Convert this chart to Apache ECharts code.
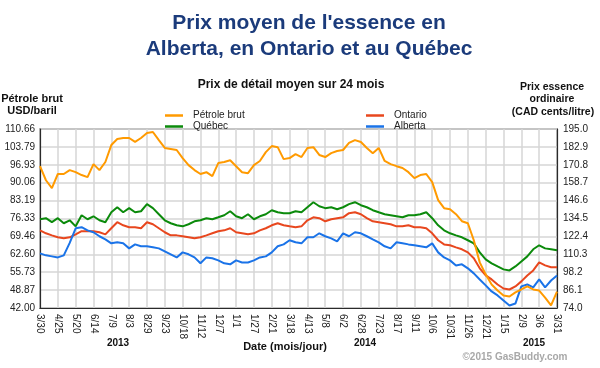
<!DOCTYPE html>
<html><head><meta charset="utf-8">
<script src="https://cdn.jsdelivr.net/npm/echarts@6/dist/echarts.min.js"></script>
<style>html,body{margin:0;padding:0;background:#fff}#c{width:600px;height:368px}</style>
</head><body><div id="c"></div>
<script>
// Tick labels along the date axis (every ~25 days)
const tickLabels = ['3/30','4/25','5/20','6/14','7/9','8/3','8/29','9/23','10/18','11/12','12/7','1/1','1/27','2/21','3/18','4/13','5/8','6/2','6/28','7/23','8/17','9/11','10/6','10/31','11/26','12/21','1/15','2/9','3/6','3/31'];
const leftTicks = [42.00, 48.87, 55.73, 62.60, 69.46, 76.33, 83.19, 90.06, 96.93, 103.79, 110.66];
const rightTicks = [74.0, 86.1, 98.2, 110.3, 122.4, 134.5, 146.6, 158.7, 170.8, 182.9, 195.0];
const yearLabels = ['2013', '2014', '2015'];

// Crude oil, USD/barrel (left axis)
const petrole = [96.4, 91.0, 88.0, 93.4, 93.4, 94.9, 94.1, 93.0, 92.2, 97.2,
  94.9, 98.0, 104.5, 106.8, 107.2, 107.2, 105.7, 107.2, 109.1, 109.5,
  106.4, 103.4, 103.0, 102.6, 99.5, 96.8, 94.9, 93.4, 94.1, 92.6,
  97.6, 98.0, 98.7, 96.4, 94.1, 93.7, 96.8, 98.4, 101.8, 104.1,
  103.7, 99.1, 99.5, 101.0, 99.9, 103.4, 103.7, 100.7, 99.9, 101.4,
  102.2, 102.6, 105.3, 106.4, 105.7, 103.4, 101.4, 103.4, 98.4, 97.2,
  96.4, 95.7, 94.1, 91.8, 93.0, 93.4, 90.3, 83.4, 80.3, 79.9,
  78.0, 75.3, 74.5, 68.0, 59.5, 54.9, 51.0, 48.7, 46.8, 46.4,
  48.0, 49.1, 50.3, 49.1, 48.7, 46.0, 43.0, 48.3];
// Regular gasoline, CAD cents/litre (right axis)
const quebec = [134.0, 134.7, 132.0, 134.7, 131.3, 133.3, 129.2, 136.7, 134.0, 136.0,
  133.3, 132.0, 138.7, 142.1, 138.7, 141.5, 138.7, 139.4, 144.2, 141.5,
  137.4, 133.3, 131.3, 129.9, 129.2, 130.6, 132.6, 133.3, 134.7, 134.0,
  135.3, 136.7, 139.4, 136.0, 134.7, 137.4, 134.0, 136.0, 137.4, 140.1,
  138.7, 138.1, 138.1, 139.4, 138.7, 142.1, 145.5, 142.8, 141.5, 142.1,
  140.8, 142.1, 144.2, 145.5, 143.5, 142.1, 140.1, 138.7, 137.4, 136.7,
  136.0, 135.3, 136.7, 136.7, 137.4, 138.7, 134.7, 129.9, 126.5, 124.5,
  123.1, 121.8, 119.8, 117.7, 111.6, 106.9, 104.2, 102.1, 100.1, 99.4,
  102.1, 105.5, 108.9, 113.7, 116.4, 114.3, 113.7, 113.0];
const ontario = [126.5, 124.5, 123.1, 121.8, 121.1, 121.8, 123.8, 125.9, 125.9, 125.9,
  125.2, 123.8, 127.9, 132.0, 129.9, 128.6, 128.6, 127.9, 132.0, 130.6,
  127.9, 125.2, 123.1, 123.1, 122.5, 121.8, 121.1, 121.8, 123.1, 124.5,
  125.9, 126.5, 127.9, 125.2, 124.5, 123.8, 124.5, 126.5, 127.9, 129.9,
  131.3, 129.9, 129.2, 128.6, 129.2, 133.3, 135.3, 134.7, 132.6, 134.0,
  134.7, 135.3, 138.1, 138.7, 137.4, 134.7, 132.6, 132.0, 131.3, 130.6,
  129.2, 129.2, 129.9, 128.6, 128.6, 127.9, 124.5, 119.8, 117.0, 116.4,
  115.0, 113.7, 111.6, 107.6, 100.8, 96.0, 93.3, 89.9, 87.2, 86.5,
  88.6, 92.0, 96.0, 99.4, 104.8, 102.8, 101.5, 101.5];
const alberta = [110.9, 109.6, 108.9, 108.2, 109.6, 118.0, 127.9, 128.6, 126.5, 125.2,
  122.5, 120.4, 117.7, 118.4, 117.7, 114.3, 117.0, 115.7, 115.7, 115.0,
  114.3, 112.3, 110.3, 108.2, 111.6, 110.3, 108.2, 104.2, 108.2, 107.6,
  106.2, 104.2, 103.5, 106.2, 104.8, 104.8, 106.2, 108.2, 108.9, 111.6,
  115.7, 117.0, 119.8, 118.4, 117.7, 121.8, 121.8, 124.5, 122.5, 121.1,
  119.1, 124.5, 122.5, 125.2, 124.5, 122.5, 120.4, 118.4, 115.7, 114.3,
  118.4, 117.7, 117.0, 116.4, 115.7, 115.0, 117.7, 111.6, 108.2, 106.2,
  102.8, 103.5, 100.8, 97.4, 93.3, 89.3, 85.2, 82.5, 79.1, 75.7,
  77.0, 88.6, 89.9, 87.9, 93.3, 87.9, 92.6, 96.0];

const STEP = 3; // data points per labelled interval
const categories = [];
for (let i = 0; i < petrole.length; i++) {
  const k = Math.floor(i / STEP);
  categories.push(i % STEP === 0 ? tickLabels[k] : tickLabels[k] + '+' + (i % STEP));
}

const FONT = 'Arial, "Liberation Sans", sans-serif';
const chart = echarts.init(document.getElementById('c'), null, {renderer: 'canvas'});

function txt(text, x, y, size, weight, fill, align) {
  return {type: 'text', x: x, y: y, silent: true,
    style: {text: text, fill: fill, font: weight + ' ' + size + 'px ' + FONT,
      textAlign: align || 'center', textVerticalAlign: 'middle'}};
}

chart.setOption({
  animation: false,
  backgroundColor: '#fff',
  textStyle: {fontFamily: FONT},
  grid: {left: 40, right: 43, top: 129, bottom: 60, show: true, borderColor: '#2a2a2a', borderWidth: 1.2, backgroundColor: 'transparent'},
  legend: [
    {left: 160, top: 105, orient: 'vertical', itemGap: 0, itemWidth: 18, itemHeight: 2.5, icon: 'rect',
     data: ['Pétrole brut', 'Québec'], selectedMode: false,
     textStyle: {fontSize: 10, color: '#222', lineHeight: 11, padding: [0, 0, 0, 5], fontFamily: FONT}},
    {left: 361, top: 105, orient: 'vertical', itemGap: 0, itemWidth: 18, itemHeight: 2.5, icon: 'rect',
     data: ['Ontario', 'Alberta'], selectedMode: false,
     textStyle: {fontSize: 10, color: '#222', lineHeight: 11, padding: [0, 0, 0, 5], fontFamily: FONT}}
  ],
  xAxis: {
    type: 'category', data: categories, boundaryGap: false,
    axisLine: {show: true, lineStyle: {color: '#2a2a2a', width: 1.2}},
    axisTick: {show: false, interval: STEP - 1},
    axisLabel: {interval: STEP - 1, rotate: -90, fontSize: 10, color: '#222', margin: 6, fontFamily: FONT},
    splitLine: {show: true, interval: STEP - 1, lineStyle: {color: '#d6d6d6', width: 1.5}}
  },
  yAxis: [
    {type: 'value', position: 'left', min: 42, max: 110.66,
     axisLine: {show: true, lineStyle: {color: '#2a2a2a', width: 1.2}},
     axisTick: {show: false, customValues: leftTicks},
     axisLabel: {customValues: leftTicks, formatter: v => v.toFixed(2), fontSize: 10, color: '#222', margin: 5, fontFamily: FONT},
     splitLine: {show: true, lineStyle: {color: '#d6d6d6', width: 1.5}}},
    {type: 'value', position: 'right', min: 74, max: 195,
     axisLine: {show: true, lineStyle: {color: '#2a2a2a', width: 1.2}},
     axisTick: {show: false, customValues: rightTicks},
     axisLabel: {customValues: rightTicks, formatter: v => v.toFixed(1), fontSize: 10, color: '#222', margin: 6, fontFamily: FONT},
     splitLine: {show: false}}
  ],
  series: [
    {name: 'Québec', type: 'line', yAxisIndex: 1, data: quebec, symbol: 'none', lineStyle: {width: 2, color: '#0B8A0B'}, itemStyle: {color: '#0B8A0B'}},
    {name: 'Ontario', type: 'line', yAxisIndex: 1, data: ontario, symbol: 'none', lineStyle: {width: 2, color: '#E8471E'}, itemStyle: {color: '#E8471E'}},
    {name: 'Alberta', type: 'line', yAxisIndex: 1, data: alberta, symbol: 'none', lineStyle: {width: 2, color: '#1A73E8'}, itemStyle: {color: '#1A73E8'}},
    {name: 'Pétrole brut', type: 'line', yAxisIndex: 0, data: petrole, symbol: 'none', lineStyle: {width: 2, color: '#FF9A00'}, itemStyle: {color: '#FF9A00'}}
  ],
  graphic: [
    txt("Prix moyen de l'essence en", 309, 23, 21, 'bold', '#1B3B7B'),
    txt('Alberta, en Ontario et au Québec', 309, 49, 21, 'bold', '#1B3B7B'),
    txt('Prix de détail moyen sur 24 mois', 291, 85, 12, 'bold', '#111'),
    txt('Pétrole brut', 32, 99, 11, 'bold', '#111'),
    txt('USD/baril', 32, 111, 11, 'bold', '#111'),
    txt('Prix essence', 552, 87, 10.5, 'bold', '#111'),
    txt('ordinaire', 552, 99.5, 10.5, 'bold', '#111'),
    txt('(CAD cents/litre)', 553, 112, 10.5, 'bold', '#111'),
    txt(yearLabels[0], 118, 343, 10, 'bold', '#111'),
    txt(yearLabels[1], 365, 343, 10, 'bold', '#111'),
    txt(yearLabels[2], 534, 343, 10, 'bold', '#111'),
    txt('Date (mois/jour)', 285, 347, 11, 'bold', '#111'),
    txt('©2015 GasBuddy.com', 515, 357, 10, 'bold', '#a8a8a8')
  ]
});
</script></body></html>
